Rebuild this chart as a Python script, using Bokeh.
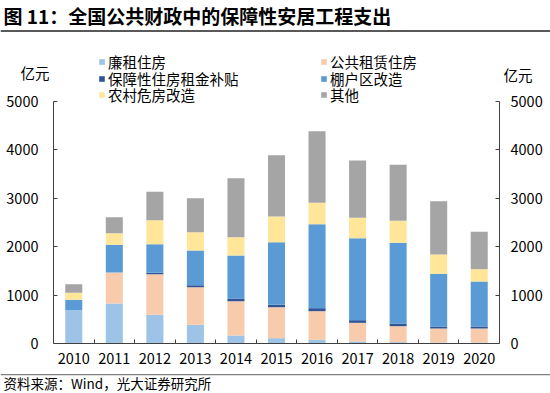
from bokeh.plotting import figure
from bokeh.models import (ColumnDataSource, Range1d, LinearAxis, FixedTicker,
                          Legend, LegendItem, Label, BoxAnnotation)
from bokeh.embed import file_html
from bokeh.resources import INLINE

# ---------------- data ----------------
years = ["2010", "2011", "2012", "2013", "2014", "2015", "2016", "2017", "2018", "2019", "2020"]
series_names = ["廉租住房", "公共租赁住房", "保障性住房租金补贴", "棚户区改造", "农村危房改造", "其他"]
lianzu = [690, 826, 592, 386, 165, 110, 76, 41, 28, 20, 20]
gongzu = [0, 641, 840, 778, 710, 640, 592, 386, 330, 290, 290]
butie = [0, 0, 30, 40, 55, 50, 62, 55, 55, 41, 41]
penghu = [213, 572, 590, 717, 888, 1294, 1736, 1694, 1667, 1088, 930]
nongcun = [144, 240, 496, 379, 379, 531, 440, 420, 454, 400, 255]
qita = [179, 331, 585, 703, 1219, 1267, 1481, 1185, 1157, 1102, 771]
y_ticks = [0, 1000, 2000, 3000, 4000, 5000]
title_text = "图 11：全国公共财政中的保障性安居工程支出"
unit_text = "亿元"
source_text = "资料来源：Wind，光大证券研究所"

colors = ["#9DC3E6", "#F8CBAD", "#2F5597", "#5B9BD5", "#FFE699", "#A5A5A5"]
FONT = "Noto Sans CJK SC"
keys = ["lianzu", "gongzu", "butie", "penghu", "nongcun", "qita"]

# ---------------- layout (pixels) ----------------
W, H = 550, 393
FL, FR, FT, FB = 53, 499, 101, 343   # plot area edges
n = len(years)
ymax = y_ticks[-1]
ppx = (FR - FL) / n
upp = ymax / (FB - FT)
x_start = -0.5 - FL / ppx
x_end = n - 0.5 + (W - FR) / ppx
y_start = -(H - FB) * upp
y_end = ymax + FT * upp

idx = list(range(n))
src = ColumnDataSource(dict(x=idx, lianzu=lianzu, gongzu=gongzu, butie=butie,
                            penghu=penghu, nongcun=nongcun, qita=qita))

p = figure(width=W, height=H, x_range=Range1d(x_start, x_end),
           y_range=Range1d(y_start, y_end), output_backend="svg", toolbar_location=None,
           x_axis_location=None, y_axis_location=None,
           min_border=0, min_border_left=0, min_border_right=0,
           min_border_top=0, min_border_bottom=0)
p.outline_line_color = None
p.grid.visible = False
p.background_fill_color = "white"
p.border_fill_color = "white"

rs = p.vbar_stack(keys, x="x", width=0.42, color=colors, line_color=None, source=src)

AX = "#404040"
# x axis
xa = LinearAxis(fixed_location=0, bounds=(-0.5, n - 0.5))
xa.ticker = FixedTicker(ticks=idx, minor_ticks=[i + 0.5 for i in idx[:-1]])
xa.major_label_overrides = {i: y for i, y in zip(idx, years)}
xa.axis_line_color = AX
xa.major_tick_in = 0
xa.major_tick_out = 0
xa.minor_tick_in = 4
xa.minor_tick_out = 0
xa.minor_tick_line_color = AX
xa.major_label_standoff = 9
xa.major_label_text_font = FONT
xa.major_label_text_font_size = "14.5px"
xa.major_label_text_color = "black"
p.add_layout(xa, "below")

def make_y(loc, standoff):
    ax = LinearAxis(fixed_location=loc, bounds=(0, ymax))
    ax.ticker = FixedTicker(ticks=y_ticks)
    ax.axis_line_color = AX
    ax.major_tick_in = 4
    ax.major_tick_out = 0
    ax.major_tick_line_color = AX
    ax.minor_tick_line_color = None
    ax.major_label_standoff = standoff
    ax.major_label_text_font = FONT
    ax.major_label_text_font_size = "14.5px"
    ax.major_label_text_color = "black"
    return ax

p.add_layout(make_y(-0.5, 15), "left")
p.add_layout(make_y(n - 0.5, 11), "right")

# legend: two columns x three rows, one single-item Legend per entry
col_x = [98, 320]
row_y = [61, 77.7, 94.3]   # row centres (px from top)
for i, name in enumerate(series_names):
    col, row = i % 2, i // 2
    lg = Legend(items=[LegendItem(label=name, renderers=[rs[i]])],
                location=(col_x[col], H - (row_y[row] + 11)), orientation="vertical",
                glyph_width=7, glyph_height=7, label_standoff=3, padding=0, margin=0,
                spacing=0, label_height=16, border_line_color=None,
                background_fill_alpha=0, label_text_font=FONT,
                label_text_font_size="14.5px", label_text_color="black")
    p.add_layout(lg)

def lab(x, y, text, size, align="left", bold=False):
    return Label(x=x, y=H - y, x_units="screen", y_units="screen", text=text,
                 text_font=FONT, text_font_size=size, text_align=align,
                 text_baseline="middle", text_color="black",
                 text_font_style="bold" if bold else "normal")

p.add_layout(lab(3, 14.5, title_text, "19px", bold=True))
p.add_layout(lab(34.5, 72, unit_text, "14.5px", align="center"))
p.add_layout(lab(517.5, 74, unit_text, "14.5px", align="center"))
p.add_layout(lab(3, 382.8, source_text, "13.5px"))

def rule(y0, y1, color):
    return BoxAnnotation(left=0, right=W, top=H - y0, bottom=H - y1,
                         left_units="screen", right_units="screen",
                         top_units="screen", bottom_units="screen",
                         fill_color=color, fill_alpha=1, line_color=None)

p.add_layout(rule(29.5, 31.5, "#595959"))
p.add_layout(rule(373.5, 374.7, "#7f7f7f"))

open("out.html", "w").write(file_html(p, INLINE))
